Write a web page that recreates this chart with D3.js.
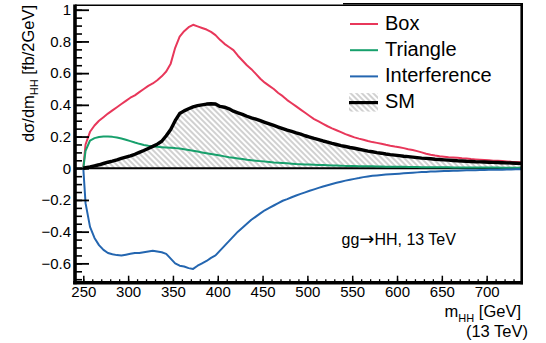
<!DOCTYPE html>
<html>
<head>
<meta charset="utf-8">
<script src="https://cdn.jsdelivr.net/npm/d3@7"></script>
<style>
  html, body { margin: 0; padding: 0; background: #fff; }
  svg { display: block; }
  text { font-family: "Liberation Sans", Arial, Helvetica, sans-serif; fill: #000; }
</style>
</head>
<body>
<svg id="chart" width="546" height="343"></svg>
<script>
// Lower edges of the 5 GeV mass bins (GeV)
const binLow = d3.range(250, 740, 5);
const binWidth = 5;

// dσ/dm_HH per component [fb/2GeV]
const boxValues = [
  0.15, 0.23, 0.27, 0.3, 0.322, 0.345, 0.365, 0.385, 0.405, 0.425,
  0.445, 0.46, 0.48, 0.5, 0.52, 0.535, 0.555, 0.58, 0.61, 0.66,
  0.76, 0.83, 0.865, 0.89, 0.905, 0.895, 0.885, 0.875, 0.86, 0.84,
  0.81, 0.785, 0.765, 0.745, 0.71, 0.68, 0.65, 0.625, 0.595, 0.565,
  0.54, 0.52, 0.5, 0.475, 0.455, 0.43, 0.41, 0.39, 0.37, 0.35,
  0.33, 0.31, 0.295, 0.28, 0.265, 0.252, 0.24, 0.228, 0.215, 0.205,
  0.195, 0.187, 0.18, 0.172, 0.165, 0.16, 0.155, 0.148, 0.142, 0.137,
  0.133, 0.127, 0.12, 0.115, 0.108, 0.1, 0.092, 0.085, 0.08, 0.076,
  0.073, 0.07, 0.068, 0.066, 0.063, 0.061, 0.058, 0.056, 0.054, 0.052,
  0.05, 0.048, 0.047, 0.045, 0.043, 0.041, 0.04, 0.038
];
const triangleValues = [
  0.11, 0.175, 0.19, 0.197, 0.2, 0.2, 0.198, 0.194, 0.188, 0.18,
  0.171, 0.162, 0.154, 0.147, 0.142, 0.138, 0.135, 0.133, 0.131, 0.129,
  0.127, 0.124, 0.12, 0.115, 0.11, 0.105, 0.1, 0.095, 0.09, 0.085,
  0.08, 0.075, 0.07, 0.066, 0.062, 0.058, 0.054, 0.051, 0.048, 0.045,
  0.042, 0.04, 0.037, 0.035, 0.033, 0.031, 0.029, 0.027, 0.026, 0.024,
  0.023, 0.022, 0.021, 0.02, 0.019, 0.018, 0.017, 0.016, 0.015, 0.015,
  0.014, 0.013, 0.013, 0.012, 0.012, 0.011, 0.011, 0.01, 0.01, 0.009,
  0.009, 0.009, 0.008, 0.008, 0.008, 0.007, 0.007, 0.007, 0.006, 0.006,
  0.006, 0.006, 0.005, 0.005, 0.005, 0.005, 0.005, 0.004, 0.004, 0.004,
  0.004, 0.004, 0.004, 0.003, 0.003, 0.003, 0.003, 0.003
];
const interferenceValues = [
  -0.22, -0.37, -0.44, -0.485, -0.515, -0.535, -0.543, -0.548, -0.55, -0.545,
  -0.54, -0.535, -0.535, -0.53, -0.525, -0.52, -0.525, -0.53, -0.54, -0.57,
  -0.6, -0.615, -0.62, -0.63, -0.635, -0.615, -0.6, -0.585, -0.565, -0.55,
  -0.52, -0.49, -0.46, -0.43, -0.4, -0.375, -0.35, -0.325, -0.305, -0.285,
  -0.265, -0.25, -0.235, -0.22, -0.205, -0.195, -0.183, -0.172, -0.162, -0.152,
  -0.142, -0.133, -0.124, -0.115, -0.107, -0.099, -0.092, -0.085, -0.078, -0.072,
  -0.067, -0.062, -0.056, -0.052, -0.048, -0.045, -0.042, -0.04, -0.038, -0.036,
  -0.034, -0.032, -0.03, -0.028, -0.026, -0.024, -0.023, -0.021, -0.02, -0.019,
  -0.018, -0.017, -0.016, -0.015, -0.014, -0.013, -0.012, -0.012, -0.011, -0.011,
  -0.01, -0.01, -0.009, -0.009, -0.008, -0.008, -0.007, -0.007
];
const smValues = [
  0.003, 0.008, 0.015, 0.022, 0.03, 0.038, 0.045, 0.053, 0.062, 0.07,
  0.078, 0.088, 0.1, 0.112, 0.125, 0.138, 0.152, 0.17, 0.205, 0.245,
  0.3, 0.345, 0.362, 0.375, 0.387, 0.395, 0.4, 0.405, 0.407, 0.405,
  0.39, 0.385, 0.375, 0.36, 0.35, 0.34, 0.328, 0.318, 0.31, 0.3,
  0.29, 0.28, 0.27, 0.26, 0.25, 0.24, 0.232, 0.223, 0.215, 0.205,
  0.197, 0.188, 0.18, 0.172, 0.165, 0.157, 0.15, 0.143, 0.137, 0.131,
  0.126, 0.12, 0.114, 0.108, 0.104, 0.099, 0.095, 0.09, 0.086, 0.083,
  0.08, 0.076, 0.073, 0.07, 0.067, 0.064, 0.062, 0.06, 0.057, 0.055,
  0.053, 0.051, 0.049, 0.047, 0.046, 0.044, 0.043, 0.041, 0.04, 0.039,
  0.038, 0.037, 0.036, 0.035, 0.034, 0.033, 0.032, 0.031
];

// Axis tick values and legend labels
const xMajorTicks = [250, 300, 350, 400, 450, 500, 550, 600, 650, 700];
const xMinorTicks = d3.range(250, 740, 10);
const yMajorTicks = [-0.6, -0.4, -0.2, 0, 0.2, 0.4, 0.6, 0.8, 1];
const yMinorTicks = d3.range(-0.7, 1.001, 0.05);
const legendLabels = ["Box", "Triangle", "Interference", "SM"];

const colors = { Box: "#e8375a", Triangle: "#17a06c", Interference: "#2466b0", SM: "#000" };

// Plot frame in pixels
const L = 75, R = 521.7, T = 5.3, B = 282.7;

const svg = d3.select("#chart");
const x = d3.scaleLinear().domain([240.74, 739.1]).range([L, R]);
const y = d3.scaleLinear().domain([-0.722, 1.028]).range([B, T]);

// hatch pattern for the SM fill
const defs = svg.append("defs");
const pat = defs.append("pattern")
  .attr("id", "hatch").attr("patternUnits", "userSpaceOnUse")
  .attr("width", 4).attr("height", 4)
  .attr("patternTransform", "rotate(-45)");
pat.append("line").attr("x1", 2).attr("y1", 0).attr("x2", 2).attr("y2", 4)
  .attr("stroke", "#8a8a8a").attr("stroke-width", 0.8);
defs.append("clipPath").attr("id", "plotclip")
  .append("rect").attr("x", L).attr("y", T).attr("width", R - L).attr("height", B - T);

// histogram contents as points at the bin centres, starting from zero at the first edge
function histPoints(vals) {
  const pts = [[binLow[0], 0]];
  vals.forEach((v, i) => pts.push([binLow[i] + binWidth / 2, v]));
  pts.push([binLow[binLow.length - 1] + binWidth, vals[vals.length - 1]]);
  return pts;
}

const line = d3.line().x(d => x(d[0])).y(d => y(d[1]));
const area = d3.area().x(d => x(d[0])).y0(y(0)).y1(d => y(d[1]));

const plot = svg.append("g").attr("clip-path", "url(#plotclip)");

// SM hatched area
plot.append("path").attr("d", area(histPoints(smValues))).attr("fill", "url(#hatch)");

// zero line
plot.append("line").attr("x1", L).attr("x2", R).attr("y1", y(0)).attr("y2", y(0))
  .attr("stroke", "#000").attr("stroke-width", 2);

const series = [
  ["Box", boxValues, 2],
  ["Triangle", triangleValues, 2],
  ["Interference", interferenceValues, 2],
  ["SM", smValues, 3.4]
];
series.forEach(([name, vals, w]) => {
  plot.append("path").attr("d", line(histPoints(vals)))
    .attr("fill", "none").attr("stroke", colors[name]).attr("stroke-width", w)
    .attr("stroke-linejoin", "round");
});

// axes: tick marks point into the frame, labels outside
function styleTicks(g, w) {
  g.select(".domain").remove();
  g.selectAll(".tick line").attr("stroke", "#000").attr("stroke-width", w);
}
svg.append("g").attr("transform", `translate(${L},0)`)
  .call(d3.axisRight(y).tickValues(yMinorTicks).tickSize(7).tickFormat(""))
  .call(g => styleTicks(g, 1.6));
svg.append("g").attr("transform", `translate(${L},0)`)
  .call(d3.axisRight(y).tickValues(yMajorTicks).tickSize(14).tickFormat(""))
  .call(g => styleTicks(g, 1.8));
svg.append("g").attr("transform", `translate(0,${B})`)
  .call(d3.axisTop(x).tickValues(xMinorTicks).tickSize(3.5).tickFormat(""))
  .call(g => styleTicks(g, 1.3));
svg.append("g").attr("transform", `translate(0,${B})`)
  .call(d3.axisTop(x).tickValues(xMajorTicks).tickSize(7).tickFormat(""))
  .call(g => styleTicks(g, 1.5));

const yLabels = svg.append("g").attr("transform", `translate(${L},0)`)
  .call(d3.axisLeft(y).tickValues(yMajorTicks).tickSize(0).tickPadding(4).tickFormat(d3.format("~g")));
yLabels.select(".domain").remove();
yLabels.selectAll("text").attr("font-size", 15).attr("font-family", null);

const xLabels = svg.append("g").attr("transform", `translate(0,${B})`)
  .call(d3.axisBottom(x).tickValues(xMajorTicks).tickSize(0).tickPadding(3.6).tickFormat(d3.format("d")));
xLabels.select(".domain").remove();
xLabels.selectAll("text").attr("font-size", 15).attr("font-family", null);

// frame
svg.append("line").attr("x1", L).attr("x2", R).attr("y1", T).attr("y2", T)
  .attr("stroke", "#000").attr("stroke-width", 1.6);
svg.append("line").attr("x1", 343).attr("x2", R + 1).attr("y1", 3.8).attr("y2", 3.8)
  .attr("stroke", "#000").attr("stroke-width", 1.4);
svg.append("line").attr("x1", R).attr("x2", R).attr("y1", 3).attr("y2", B + 1.5)
  .attr("stroke", "#000").attr("stroke-width", 2.6);
svg.append("line").attr("x1", L).attr("x2", L).attr("y1", T - 0.8).attr("y2", B + 1.5)
  .attr("stroke", "#000").attr("stroke-width", 3.6);
svg.append("line").attr("x1", L - 1.8).attr("x2", R + 1.3).attr("y1", B).attr("y2", B)
  .attr("stroke", "#000").attr("stroke-width", 3.4);

// legend
const leg = svg.append("g");
legendLabels.forEach((name, i) => {
  const base = 29.5 + i * 26.2;
  const ly = base - 5.5;
  if (name === "SM") {
    leg.append("rect").attr("x", 349).attr("y", ly - 9.5).attr("width", 29).attr("height", 18.5)
      .attr("fill", "url(#hatch)");
    leg.append("line").attr("x1", 349).attr("x2", 378).attr("y1", ly).attr("y2", ly)
      .attr("stroke", "#000").attr("stroke-width", 3.2);
  } else {
    leg.append("line").attr("x1", 350).attr("x2", 378).attr("y1", ly).attr("y2", ly)
      .attr("stroke", colors[name]).attr("stroke-width", 2);
  }
  leg.append("text").attr("x", 385).attr("y", base).attr("font-size", 20).text(name);
});

// process label
const proc = svg.append("text").attr("x", 341.5).attr("y", 245).attr("font-size", 16);
proc.append("tspan").text("gg");
proc.append("tspan").attr("font-family", "DejaVu Sans").attr("font-size", 18).text("\u2192");
proc.append("tspan").text("HH, 13 TeV");

// x axis title
const xt = svg.append("text").attr("x", 521).attr("y", 317).attr("text-anchor", "end").attr("font-size", 16.5);
xt.append("tspan").text("m");
xt.append("tspan").attr("font-size", 11).attr("dy", 4.5).text("HH");
xt.append("tspan").attr("dy", -4.5).text(" [GeV]");
svg.append("text").attr("x", 528).attr("y", 337).attr("text-anchor", "end").attr("font-size", 16.5).text("(13 TeV)");

// y axis title
const yt = svg.append("text").attr("transform", "translate(33.5,5) rotate(-90)")
  .attr("text-anchor", "end").attr("font-size", 16.5);
yt.append("tspan").text("d\u03c3/dm");
yt.append("tspan").attr("font-size", 11).attr("dy", 4.5).text("HH");
yt.append("tspan").attr("dy", -4.5).text(" [fb/2GeV]");
</script>
</body>
</html>
